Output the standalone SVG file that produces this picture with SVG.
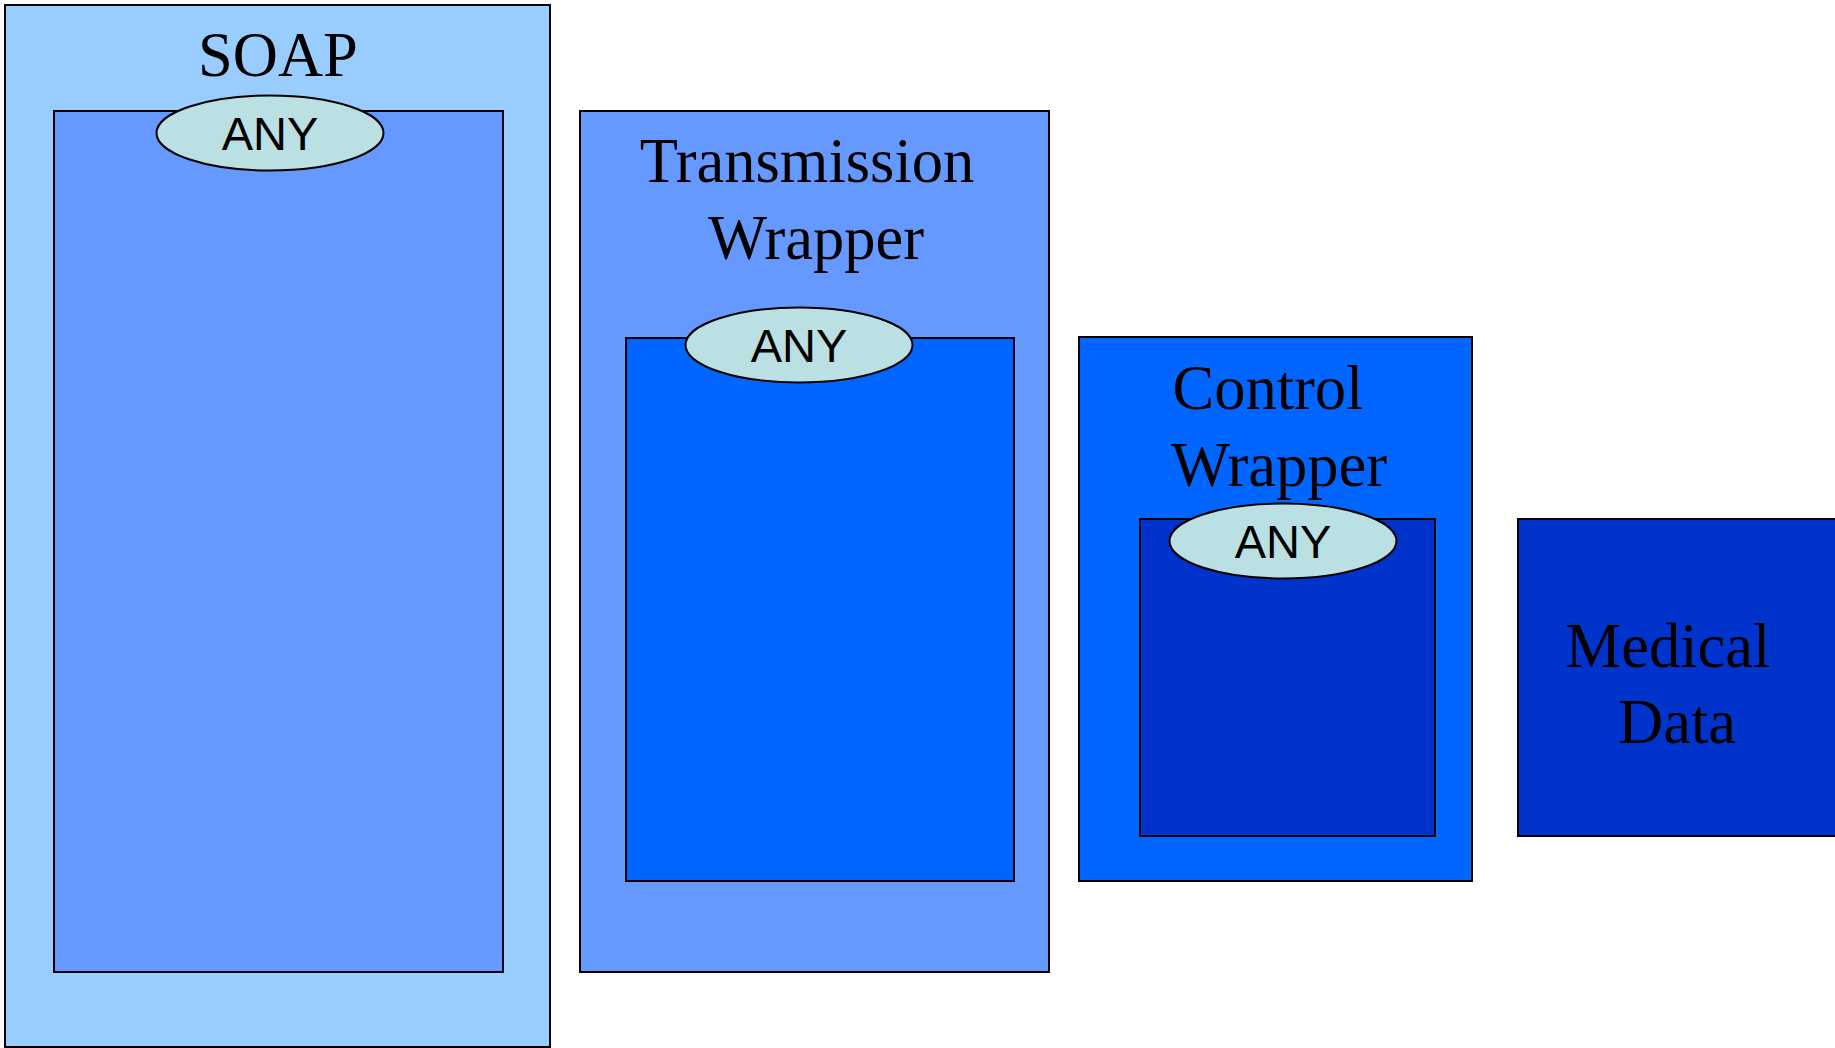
<svg xmlns="http://www.w3.org/2000/svg" width="1835" height="1048" viewBox="0 0 1835 1048">
<style>
.box{stroke:#000;stroke-width:2}
.c1{fill:#99CCFF}.c2{fill:#6699FF}.c3{fill:#0066FF}.c4{fill:#0033CC}
.any{fill:#BBE0E3;stroke:#000;stroke-width:2}
.t{font-family:"Liberation Serif","Times New Roman",serif;font-size:62.5px;fill:#000;text-anchor:middle}
.a{font-family:"Liberation Sans",Arial,sans-serif;font-size:47px;fill:#000;text-anchor:middle}
</style>
<rect width="1835" height="1048" fill="#fff"/>
<g id="soap">
<rect class="box c1" x="5" y="5" width="545" height="1042"/>
<text class="t" x="278" y="76">SOAP</text>
<rect class="box c2" x="54" y="111" width="449" height="861"/>
<g id="any-soap"><ellipse class="any" cx="270" cy="133" rx="113.5" ry="37.5"/>
<text class="a" x="270" y="150">ANY</text></g>
</g>
<g id="transmission">
<rect class="box c2" x="580" y="111" width="469" height="861"/>
<text class="t" x="807" y="182">Transmission</text>
<text class="t" x="816" y="259">Wrapper</text>
<rect class="box c3" x="626" y="338" width="388" height="543"/>
<g id="any-transmission"><ellipse class="any" cx="799" cy="345" rx="113.5" ry="37.5"/>
<text class="a" x="799" y="362">ANY</text></g>
</g>
<g id="control">
<rect class="box c3" x="1079" y="337" width="393" height="544"/>
<text class="t" x="1268" y="409">Control</text>
<text class="t" x="1279" y="486">Wrapper</text>
<rect class="box c4" x="1140" y="519" width="295" height="317"/>
<g id="any-control"><ellipse class="any" cx="1283" cy="541" rx="113.5" ry="37.5"/>
<text class="a" x="1283" y="558">ANY</text></g>
</g>
<g id="medical">
<rect class="box c4" x="1518" y="519" width="330" height="317"/>
<text class="t" x="1668" y="667">Medical</text>
<text class="t" x="1677" y="743">Data</text>
</g>
<g id="connectors"></g>
</svg>
